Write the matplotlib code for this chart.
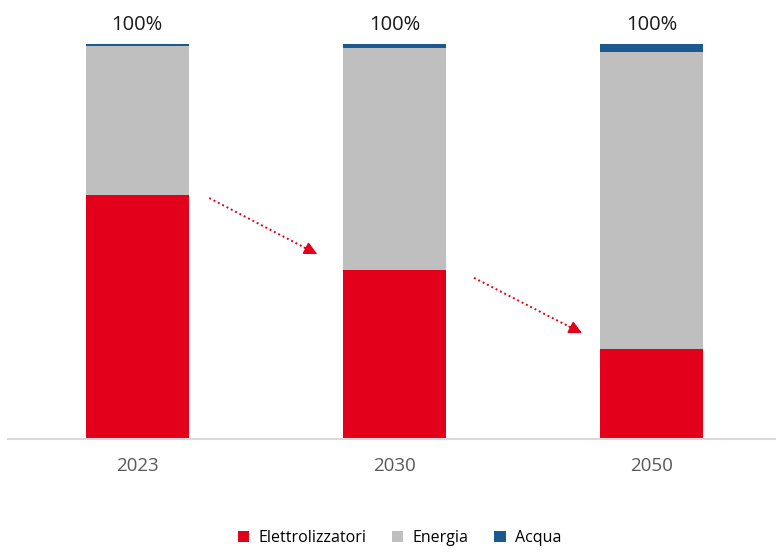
import numpy as np
import matplotlib.pyplot as plt

plt.rcParams["font.family"] = ["Open Sans", "DejaVu Sans"]

# dati (quota % sul costo)
anni = ["2023", "2030", "2050"]
elettrolizzatori = [61.8, 42.8, 22.8]
acqua = [0.5, 1.0, 2.0]
energia = [100 - e - a for e, a in zip(elettrolizzatori, acqua)]
totali = ["100%", "100%", "100%"]

col_rosso = "#E2001A"
col_grigio = "#BFBFBF"
col_blu = "#1B5A8E"

fig = plt.figure(figsize=(7.76, 5.53), dpi=100)
ax = fig.add_axes([8 / 776, 1 - 439 / 553, 1 - 8 / 776, (439 - 44) / 553])

x = np.arange(len(anni))
w = 0.4
ax.bar(x, elettrolizzatori, w, color=col_rosso, label="Elettrolizzatori")
ax.bar(x, energia, w, bottom=elettrolizzatori, color=col_grigio, label="Energia")
base_acqua = [e + g for e, g in zip(elettrolizzatori, energia)]
ax.bar(x, acqua, w, bottom=base_acqua, color=col_blu, label="Acqua")

for xi, t in zip(x, totali):
    ax.text(xi, 102.3, t, ha="center", va="bottom", fontsize=14.5, color="#1a1a1a")

# frecce tratteggiate tra le barre (linea punteggiata + punta piena)
for i in range(len(anni) - 1):
    x0 = i + 0.28 + 0.03 * i
    x1 = i + 0.70 + 0.03 * i
    y0 = elettrolizzatori[i] - 0.8 - 1.2 * i
    y1 = elettrolizzatori[i + 1] + 4.0
    ax.plot([x0, x1], [y0, y1], color=col_rosso, lw=1.4, linestyle=(0, (1, 1.5)))
    t = 0.88
    ax.annotate("", xy=(x1, y1), xytext=(x0 + t * (x1 - x0), y0 + t * (y1 - y0)),
                arrowprops=dict(arrowstyle="-|>", color=col_rosso, lw=1.0,
                                mutation_scale=20, shrinkA=0, shrinkB=0))

ax.set_xlim(-0.503, 2.485)
ax.set_ylim(0, 100)
ax.set_xticks(x)
ax.set_xticklabels(anni, fontsize=13.5, color="#595959")
ax.tick_params(axis="x", length=0, pad=13)
ax.set_yticks([])
for s in ["top", "right", "left"]:
    ax.spines[s].set_visible(False)
ax.spines["bottom"].set_color("#D9D9D9")
ax.spines["bottom"].set_linewidth(1.5)

fig.legend(loc="lower center", bbox_to_anchor=(0.515, -0.014), ncol=3,
           frameon=False, fontsize=11.5, handlelength=0.7, handleheight=0.7,
           handletextpad=0.6, columnspacing=1.6)

fig.savefig("out.png", dpi=100)
